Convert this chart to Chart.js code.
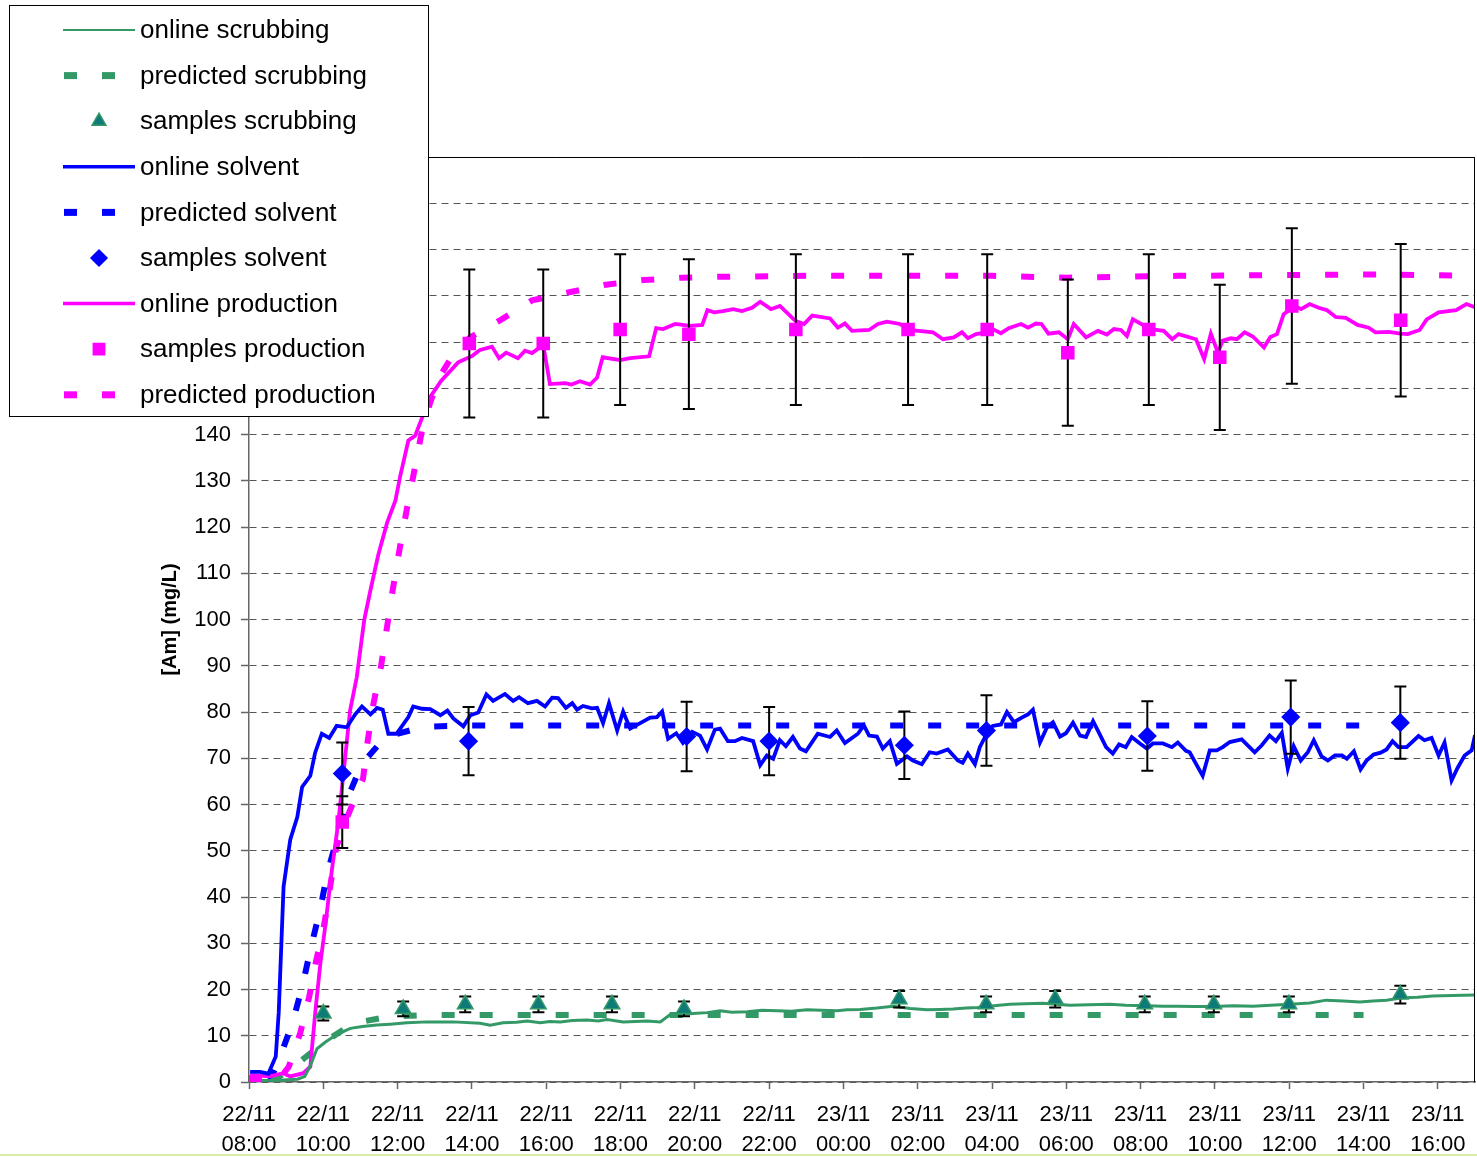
<!DOCTYPE html>
<html>
<head>
<meta charset="utf-8">
<title>[Am] online vs predicted</title>
<script src="https://cdn.jsdelivr.net/npm/chart.js@4.4.1/dist/chart.umd.min.js"></script>
<style>
  body { margin: 0; background: #fff; }
  #wrap { position: relative; width: 1477px; height: 1157px; }
  #bottomLine { position: absolute; left: 0; top: 1154px; width: 1477px; height: 2px; background: #d8eea6; }
</style>
</head>
<body>
<div id="wrap">
  <canvas id="amChart" width="1477" height="1157"></canvas>
  <div id="bottomLine"></div>
</div>
<script>
// x = hours since 22/11 08:00, y = [Am] in mg/L

const xTickLabels = [
  ['22/11', '08:00'], ['22/11', '10:00'], ['22/11', '12:00'], ['22/11', '14:00'],
  ['22/11', '16:00'], ['22/11', '18:00'], ['22/11', '20:00'], ['22/11', '22:00'],
  ['23/11', '00:00'], ['23/11', '02:00'], ['23/11', '04:00'], ['23/11', '06:00'],
  ['23/11', '08:00'], ['23/11', '10:00'], ['23/11', '12:00'], ['23/11', '14:00'],
  ['23/11', '16:00']
];

const scrubOnline = [
  [0, 0.3], [0.8, 0.4], [1.3, 0.6], [1.5, 1.2], [1.65, 3.5], [1.83, 7.2], [2.05, 8.6], [2.27, 9.8],
  [2.5, 10.8], [2.73, 11.6], [3.05, 12.0], [3.44, 12.3], [3.8, 12.5], [4.25, 12.8], [4.8, 13.0],
  [5.5, 13.0], [6.22, 12.7], [6.49, 12.3], [6.84, 12.8], [7.2, 12.9], [7.49, 13.2], [7.84, 12.8],
  [8.1, 13.1], [8.38, 13.0], [8.7, 13.3], [9.1, 13.4], [9.4, 13.2], [9.64, 13.5], [10.07, 13.0],
  [10.4, 13.1], [10.72, 13.2], [11.07, 13.0], [11.34, 14.6], [11.65, 14.7], [11.95, 14.8],
  [12.33, 15.0], [12.68, 15.4], [13.0, 15.1], [13.41, 15.2], [13.8, 15.5], [14.21, 15.4],
  [14.6, 15.3], [15.02, 15.6], [15.4, 15.5], [15.83, 15.4], [16.1, 15.6], [16.45, 15.7],
  [16.9, 16.0], [17.34, 16.4], [17.8, 15.9], [18.25, 15.6], [18.6, 15.7], [18.95, 15.8],
  [19.3, 16.0], [19.62, 16.1], [20.05, 16.5], [20.48, 16.8], [20.9, 16.9], [21.37, 17.0],
  [21.7, 16.8], [22.1, 16.6], [22.6, 16.7], [23.17, 16.8], [23.6, 16.6], [24.17, 16.5],
  [24.6, 16.4], [24.97, 16.4], [25.45, 16.3], [25.94, 16.3], [26.5, 16.5], [27.02, 16.4],
  [27.5, 16.6], [28.01, 16.8], [28.55, 17.1], [29.0, 17.7], [29.45, 17.5], [29.9, 17.3],
  [30.25, 17.5], [30.62, 17.7], [31.05, 18.2], [31.45, 18.3], [31.86, 18.6], [32.4, 18.7], [33, 18.8]
];
const scrubPredicted = [
  [0.6, 0], [1.16, 3], [2.0, 8.5], [2.81, 12.7], [3.75, 14.1], [4.8, 14.5], [30, 14.5]
];
const scrubSampleT = [2.0, 4.15, 5.82, 7.79, 9.77, 11.71, 17.5, 19.84, 21.7, 24.11, 25.97, 27.99, 30.99];
const scrubSampleV = [14.8, 15.8, 16.8, 16.8, 16.8, 15.8, 17.9, 16.8, 17.9, 16.8, 16.8, 16.8, 18.9];
const scrubSampleErr = [1.5, 1.6, 1.7, 1.7, 1.7, 1.6, 1.8, 1.7, 1.8, 1.7, 1.7, 1.7, 1.9];

const solventOnline = [
  [0.03, 2.2], [0.3, 2.2], [0.52, 1.8], [0.72, 5.5], [0.8, 15], [0.93, 42.2], [1.11, 52.4],
  [1.3, 57.3], [1.43, 63.8], [1.65, 66.2], [1.78, 71.2], [1.96, 75.3], [2.16, 74.4], [2.36, 77.0],
  [2.63, 76.7], [2.86, 79.5], [3.04, 81.2], [3.27, 79.5], [3.45, 80.9], [3.6, 80.5], [3.75, 75.3],
  [3.97, 75.3], [4.29, 78.9], [4.42, 81.2], [4.66, 80.7], [4.88, 80.6], [5.15, 79.3], [5.34, 80.3],
  [5.5, 78.6], [5.77, 76.9], [5.96, 79.3], [6.17, 79.9], [6.39, 83.8], [6.57, 82.4], [6.89, 83.9],
  [7.11, 82.4], [7.27, 83.2], [7.51, 81.9], [7.75, 82.4], [7.97, 81.2], [8.16, 83.1], [8.32, 83.0],
  [8.53, 80.9], [8.7, 81.9], [8.83, 80.5], [8.99, 81.3], [9.23, 80.8], [9.37, 80.9], [9.53, 77.6],
  [9.69, 81.9], [9.91, 76.0], [10.07, 80.1], [10.26, 76.4], [10.53, 77.6], [10.8, 78.8],
  [10.98, 78.9], [11.12, 80.1], [11.28, 74.2], [11.5, 75.4], [11.68, 73.3], [11.93, 75.7],
  [12.14, 74.9], [12.33, 71.9], [12.54, 76.2], [12.68, 76.4], [12.89, 73.7], [13.08, 73.7],
  [13.27, 74.4], [13.57, 73.7], [13.76, 68.5], [13.94, 70.6], [14.11, 69.9], [14.29, 73.9],
  [14.45, 72.6], [14.64, 74.6], [14.83, 72.1], [14.99, 71.5], [15.31, 75.3], [15.64, 74.6],
  [15.82, 76.0], [16.04, 73.3], [16.39, 75.3], [16.55, 77.1], [16.69, 74.9], [16.9, 74.7],
  [17.06, 72.1], [17.25, 73.7], [17.44, 68.8], [17.71, 70.4], [17.87, 69.5], [18.11, 68.7],
  [18.32, 71.3], [18.51, 71.0], [18.81, 71.9], [19.08, 69.5], [19.21, 69.0], [19.35, 71.0],
  [19.54, 68.7], [19.67, 72.4], [19.86, 75.3], [20.02, 77.0], [20.24, 77.3], [20.4, 80.0],
  [20.59, 77.8], [20.8, 78.8], [20.97, 79.5], [21.1, 80.5], [21.29, 73.4], [21.48, 76.7],
  [21.64, 77.8], [21.83, 74.7], [21.99, 75.4], [22.18, 77.7], [22.37, 74.9], [22.53, 74.6],
  [22.72, 78.0], [22.88, 75.5], [23.07, 72.4], [23.25, 71.0], [23.42, 73.0], [23.6, 72.4],
  [23.76, 74.6], [23.98, 73.2], [24.17, 72.1], [24.33, 73.2], [24.6, 73.2], [24.84, 72.4],
  [25.0, 73.4], [25.22, 71.6], [25.32, 71.3], [25.51, 68.5], [25.67, 66.2], [25.86, 71.7],
  [26.05, 71.7], [26.21, 72.4], [26.4, 73.5], [26.72, 74.1], [27.07, 71.3], [27.26, 72.8],
  [27.47, 74.9], [27.64, 73.7], [27.8, 75.5], [27.96, 67.8], [28.12, 72.6], [28.31, 69.5],
  [28.5, 71.3], [28.66, 73.9], [28.87, 70.4], [29.04, 69.5], [29.23, 70.6], [29.42, 70.6],
  [29.55, 69.9], [29.74, 71.5], [29.92, 67.6], [30.08, 69.5], [30.27, 70.8], [30.46, 71.2],
  [30.62, 71.9], [30.78, 73.7], [30.94, 72.4], [31.16, 72.4], [31.48, 74.8], [31.64, 73.9],
  [31.83, 74.4], [32.02, 70.6], [32.18, 73.4], [32.37, 65.2], [32.53, 67.9], [32.72, 70.6],
  [32.91, 71.7], [33, 75.0]
];
const solventPredicted = [
  [0.55, 0], [0.84, 5.5], [1.18, 13], [1.45, 21.2], [1.67, 29.2], [1.91, 37.1], [2.11, 45.2],
  [2.38, 53], [2.63, 61], [3.04, 68.8], [3.67, 74.6], [4.7, 76.8], [6, 77.1], [30, 77.1]
];
const solventSampleT = [2.51, 5.91, 11.78, 14.0, 17.64, 19.85, 24.18, 28.04, 30.99];
const solventSampleV = [66.7, 73.7, 74.7, 73.7, 72.8, 76.0, 74.8, 78.9, 77.7];
const solventSampleErr = [6.7, 7.4, 7.5, 7.4, 7.3, 7.6, 7.5, 7.9, 7.8];

const prodOnline = [
  [0.03, 1.5], [0.57, 1.2], [0.92, 1.9], [1.11, 1.2], [1.46, 1.9], [1.65, 3.3], [1.78, 14.8],
  [1.92, 25.6], [2.05, 33.5], [2.23, 45.8], [2.41, 56.6], [2.59, 70.3], [2.72, 80.3], [2.9, 87.5],
  [3.1, 99.8], [3.26, 106], [3.48, 114], [3.72, 121], [3.94, 125.7], [4.07, 131], [4.29, 138.7],
  [4.47, 139.7], [4.87, 148], [5.17, 151.6], [5.63, 155.6], [6.01, 157], [6.22, 158.3], [6.54, 159],
  [6.73, 156.5], [6.92, 157.7], [7.24, 156.5], [7.43, 158.1], [7.62, 157.6], [7.92, 159.4],
  [8.1, 150.9], [8.51, 151.1], [8.68, 150.8], [8.91, 151.5], [9.18, 150.8], [9.37, 152.3],
  [9.52, 156.7], [9.99, 156.1], [10.26, 156.5], [10.77, 156.9], [10.96, 163], [11.15, 162.8],
  [11.47, 163.9], [11.87, 163.5], [12.2, 163.7], [12.34, 166.9], [12.52, 166.4], [12.76, 166.7],
  [13.03, 167.1], [13.27, 166.7], [13.54, 167.4], [13.76, 168.7], [14.05, 167.1], [14.29, 167.8],
  [14.7, 164.6], [14.94, 163.9], [15.16, 165.7], [15.64, 165.1], [15.85, 163.1], [16.04, 164],
  [16.23, 162.4], [16.69, 162.6], [16.93, 163.9], [17.17, 164.4], [17.52, 163.9], [17.76, 162.6],
  [18.41, 162.1], [18.68, 160.6], [18.97, 161], [19.19, 162.1], [19.35, 160.8], [19.57, 161.7],
  [19.86, 162.1], [20.02, 162.8], [20.24, 161.9], [20.45, 163], [20.78, 163.9], [20.97, 163.1],
  [21.18, 164], [21.33, 163.9], [21.52, 161.8], [21.8, 162.1], [22.04, 160.6], [22.2, 163.9],
  [22.53, 161], [22.85, 162.4], [23.09, 161.6], [23.28, 162.8], [23.47, 162.6], [23.63, 161.3],
  [23.79, 164.9], [24.06, 163.7], [24.27, 162.8], [24.62, 162.4], [24.85, 160.6], [25.02, 161.7],
  [25.49, 160.6], [25.71, 156.3], [25.89, 161.8], [26.08, 157.7], [26.21, 160.3], [26.43, 160.8],
  [26.59, 160.6], [26.8, 162.1], [27.02, 161.2], [27.32, 158.8], [27.49, 161.1], [27.67, 161.7],
  [27.85, 166], [28.15, 167.8], [28.32, 167.1], [28.55, 168.2], [28.79, 167.4], [29.01, 166.9],
  [29.25, 165.4], [29.52, 165.2], [29.84, 163.7], [30.14, 163.1], [30.32, 162.1], [30.68, 162.2],
  [31.0, 161.8], [31.19, 161.7], [31.51, 162.6], [31.7, 164.9], [32.02, 166.4], [32.49, 166.9],
  [32.77, 168.2], [33, 167.5]
];
const prodPredicted = [
  [0, 0], [0.8, 0.5], [1.07, 3.3], [1.38, 10.6], [1.62, 18.4], [1.81, 26.3], [2.03, 34.3],
  [2.19, 42.5], [2.35, 50.8], [2.68, 58], [3.07, 65.6], [3.19, 73.5], [3.35, 81.8], [3.55, 89.7],
  [3.7, 97.6], [3.86, 106], [4.07, 116], [4.29, 125.7], [4.47, 133], [4.66, 141], [4.88, 147],
  [5.15, 152.7], [5.47, 157], [5.95, 161], [6.74, 164.6], [7.62, 169], [8.59, 170.7], [9.61, 172.4],
  [10.63, 173.4], [11.65, 173.9], [12.68, 174.1], [15, 174.3], [20, 174.3], [22, 173.9],
  [25, 174.3], [30.4, 174.6], [33, 174.3]
];
const prodSampleT = [0.17, 2.51, 5.93, 7.92, 9.99, 11.84, 14.72, 17.74, 19.87, 22.04, 24.22, 26.13, 28.07, 31.0];
const prodSampleV = [0, 56.2, 159.7, 159.7, 162.7, 161.7, 162.7, 162.7, 162.7, 157.7, 162.7, 156.7, 167.8, 164.7];
const prodSampleErr = [0, 5.6, 16, 16, 16.3, 16.2, 16.3, 16.3, 16.3, 15.8, 16.3, 15.7, 16.8, 16.5];

const legendOrder = [
  'online scrubbing', 'predicted scrubbing', 'samples scrubbing',
  'online solvent', 'predicted solvent', 'samples solvent',
  'online production', 'samples production', 'predicted production'
];

const green = '#339966';
const teal = '#0f7b78';
const blue = '#0000ff';
const magenta = '#ff00ff';
const FONT = '"Liberation Sans", Arial, sans-serif';

const xy = rows => rows.map(([x, y]) => ({ x, y }));
const samples = (t, v) => t.map((x, i) => ({ x, y: v[i] }));

function onlineSet(label, rows, color, width, legendWidth) {
  return {
    label, data: xy(rows), borderColor: color, borderWidth: width, legendWidth,
    pointRadius: 0, tension: 0, order: 1, kind: 'online'
  };
}
function predictedSet(label, rows, color) {
  return {
    label, data: xy(rows), borderColor: color, borderWidth: 6, borderDash: [13, 25],
    borderCapStyle: 'butt', pointRadius: 0, tension: 0, order: 2, kind: 'predicted'
  };
}
function sampleSet(label, t, v, err, style, radius, fill, stroke) {
  return {
    label, data: samples(t, v), errors: err, showLine: false,
    pointStyle: style, pointRadius: radius, backgroundColor: fill, borderColor: stroke,
    pointBorderWidth: 1.5, order: 0, kind: 'samples'
  };
}

// error bars are drawn just before the sample markers of each set
const errorBars = {
  id: 'errorBars',
  beforeDatasetDraw(chart, args) {
    const ds = chart.data.datasets[args.index];
    if (!ds.errors) return;
    const { ctx, scales: { x, y } } = chart;
    ctx.save();
    ctx.strokeStyle = '#000';
    ctx.lineWidth = 2;
    ds.data.forEach((p, i) => {
      const e = ds.errors[i];
      if (!e) return;
      const px = x.getPixelForValue(p.x);
      const top = y.getPixelForValue(p.y + e);
      const bot = y.getPixelForValue(p.y - e);
      ctx.beginPath();
      ctx.moveTo(px, top); ctx.lineTo(px, bot);
      ctx.moveTo(px - 6, top); ctx.lineTo(px + 6, top);
      ctx.moveTo(px - 6, bot); ctx.lineTo(px + 6, bot);
      ctx.stroke();
    });
    ctx.restore();
  }
};

const frameBorder = {
  id: 'frameBorder',
  afterDatasetsDraw(chart) {
    const { ctx, chartArea: a } = chart;
    ctx.save();
    ctx.strokeStyle = '#000';
    ctx.lineWidth = 1;
    ctx.beginPath();
    ctx.moveTo(a.left, a.top + 0.5);
    ctx.lineTo(a.right - 0.5, a.top + 0.5);
    ctx.lineTo(a.right - 0.5, a.bottom);
    ctx.stroke();
    ctx.restore();
  }
};

function drawMarker(ctx, style, x, y, r) {
  ctx.beginPath();
  if (style === 'triangle') {
    ctx.moveTo(x, y - r);
    ctx.lineTo(x + 0.866 * r, y + 0.5 * r);
    ctx.lineTo(x - 0.866 * r, y + 0.5 * r);
  } else if (style === 'rectRot') {
    ctx.moveTo(x - r, y); ctx.lineTo(x, y - r); ctx.lineTo(x + r, y); ctx.lineTo(x, y + r);
  } else {
    const s = r * Math.SQRT1_2;
    ctx.rect(x - s, y - s, 2 * s, 2 * s);
  }
  ctx.closePath();
  ctx.fill();
  ctx.stroke();
}

const boxLegend = {
  id: 'boxLegend',
  afterDraw(chart) {
    const ctx = chart.ctx;
    ctx.save();
    ctx.fillStyle = '#fff';
    ctx.fillRect(9, 5, 420, 412);
    ctx.strokeStyle = '#000';
    ctx.lineWidth = 1;
    ctx.strokeRect(9.5, 5.5, 419, 411);
    ctx.font = '26px ' + FONT;
    ctx.textBaseline = 'middle';
    legendOrder.forEach((name, i) => {
      const ds = chart.data.datasets.find(d => d.label === name);
      const y = 30 + i * 45.6;
      ctx.strokeStyle = ds.borderColor;
      if (ds.kind === 'online') {
        ctx.lineWidth = ds.legendWidth;
        ctx.beginPath();
        ctx.moveTo(63, y); ctx.lineTo(135, y);
        ctx.stroke();
      } else if (ds.kind === 'predicted') {
        ctx.fillStyle = ds.borderColor;
        ctx.fillRect(64, y - 3.5, 13, 7);
        ctx.fillRect(102, y - 3.5, 13, 7);
      } else {
        ctx.fillStyle = ds.backgroundColor;
        ctx.lineWidth = ds.pointBorderWidth;
        drawMarker(ctx, ds.pointStyle, 99, y, Math.min(ds.pointRadius, 8));
      }
      ctx.fillStyle = '#000';
      ctx.fillText(name, 140, y + 1);
    });
    ctx.restore();
  }
};

const ctx = document.getElementById('amChart').getContext('2d');
const chart = new Chart(ctx, {
  type: 'line',
  data: {
    datasets: [
      onlineSet('online scrubbing', scrubOnline, green, 3, 2),
      predictedSet('predicted scrubbing', scrubPredicted, green),
      sampleSet('samples scrubbing', scrubSampleT, scrubSampleV, scrubSampleErr, 'triangle', 9, teal, green),
      onlineSet('online solvent', solventOnline, blue, 3.8, 3.5),
      predictedSet('predicted solvent', solventPredicted, blue),
      sampleSet('samples solvent', solventSampleT, solventSampleV, solventSampleErr, 'rectRot', 8.5, blue, blue),
      onlineSet('online production', prodOnline, magenta, 3.8, 3.5),
      sampleSet('samples production', prodSampleT, prodSampleV, prodSampleErr, 'rect', 8.5, magenta, magenta),
      predictedSet('predicted production', prodPredicted, magenta)
    ]
  },
  options: {
    responsive: false,
    animation: false,
    events: [],
    layout: { autoPadding: false, padding: { left: 0, right: 2, top: 157, bottom: 0 } },
    plugins: { legend: { display: false }, tooltip: { enabled: false } },
    scales: {
      x: {
        type: 'linear',
        min: 0,
        max: 33,
        afterFit: s => { s.height = 75; s.paddingLeft = 0; s.paddingRight = 0; },
        grid: { drawOnChartArea: false, drawTicks: true, tickLength: 7, tickColor: '#666', tickWidth: 1.5 },
        border: { display: true, color: '#666', width: 1.5 },
        ticks: {
          stepSize: 2,
          includeBounds: false,
          autoSkip: false,
          maxRotation: 0,
          padding: 11,
          color: '#000',
          font: { family: FONT, size: 22, lineHeight: 1.36 },
          callback: v => xTickLabels[Math.round(v / 2)]
        }
      },
      y: {
        min: 0,
        max: 200,
        afterFit: s => { s.width = 249; s.paddingTop = 0; s.paddingBottom = 0; },
        grid: { color: '#555', lineWidth: 1, tickLength: 8, tickColor: '#666', tickWidth: 1.5 },
        border: { display: true, color: '#666', width: 1.5, dash: [7, 5] },
        ticks: {
          stepSize: 10,
          autoSkip: false,
          padding: 10,
          color: '#000',
          font: { family: FONT, size: 22 }
        },
        title: {
          display: true,
          text: '[Am] (mg/L)',
          color: '#000',
          font: { family: FONT, size: 20, weight: 'bold' },
          padding: { top: 158, bottom: 0 }
        }
      }
    }
  },
  plugins: [errorBars, frameBorder, boxLegend]
});
</script>
</body>
</html>
